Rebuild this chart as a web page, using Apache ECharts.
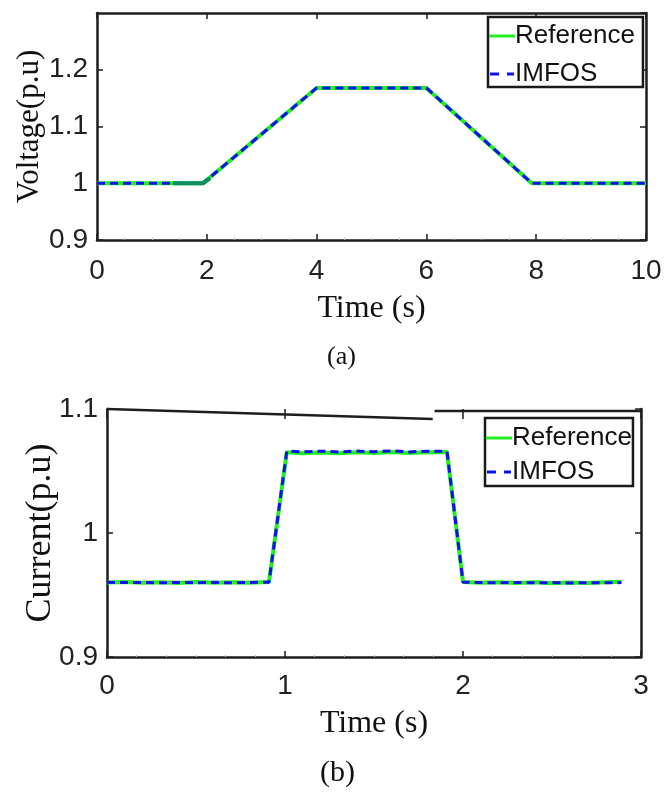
<!DOCTYPE html>
<html>
<head>
<meta charset="utf-8">
<script src="https://cdn.jsdelivr.net/npm/echarts@6/dist/echarts.min.js"></script>
<style>html,body{margin:0;padding:0;background:#fff}#c{width:665px;height:792px}</style>
</head>
<body>
<div id="c"></div>
<script>
// ---- Panel (a): voltage ----
const voltTime   = [0, 1.38, 1.93, 4.0, 6.0, 7.92, 10];
const voltRef    = [1.0, 1.0, 1.0, 1.168, 1.168, 1.0, 1.0];
const voltImfos  = [1.0, 1.0, 1.0, 1.168, 1.168, 1.0, 1.0];
const voltSegTime = [1.38, 1.93, 2.06];
const voltSegVal  = [1.0, 1.0, 1.009];
const voltXTicks = [0, 2, 4, 6, 8, 10];
const voltYTicks = [0.9, 1.0, 1.1, 1.2];

// ---- Panel (b): current ----
const curTime  = [0,0.1,0.2,0.3,0.4,0.5,0.6,0.7,0.8,0.91,1.01,1.1,1.2,1.3,1.4,1.5,1.6,1.7,1.8,1.91,2.0,2.1,2.2,2.3,2.4,2.5,2.6,2.7,2.8,2.89];
const curRef   = [0.9600,0.9604,0.9598,0.9603,0.9597,0.9604,0.9599,0.9603,0.9598,0.9604,1.0652,1.0644,1.0650,1.0643,1.0652,1.0645,1.0653,1.0646,1.0651,1.0653,0.9604,0.9598,0.9602,0.9597,0.9603,0.9595,0.9601,0.9597,0.9602,0.9606];
const curImfos = [0.9602,0.9600,0.9601,0.9598,0.9602,0.9599,0.9602,0.9598,0.9601,0.9603,1.0660,1.0655,1.0660,1.0654,1.0661,1.0655,1.0662,1.0654,1.0660,1.0658,0.9603,0.9600,0.9599,0.9601,0.9598,0.9600,0.9596,0.9600,0.9598,0.9600];
const curFrameA_T = [0, 1.83];
const curFrameA_V = [1.1, 1.092];
const curFrameB_T = [1.84, 3];
const curFrameB_V = [1.0984, 1.0984];
const curXTicks = [0, 1, 2, 3];
const curYTicks = [0.9, 1.0, 1.1];

const pairs = (xs, ys) => xs.map((x, i) => [x, ys[i]]);

const AX = '#1e1e1e';
const GREEN = '#22ee22';
const BLUE = '#1010ee';
const tickFont = {fontFamily: 'Liberation Sans', fontSize: 28, color: '#222'};
const nameFont = {fontFamily: 'Liberation Serif', fontSize: 32, color: '#111'};
const ICON_SOLID = 'path://M0,0H26V3H0Z';
const ICON_DASH = 'path://M0,0H9V3H0Z M17,0H24V3H17Z';

function xAxisMain(grid, max, interval, minorSplit, nameGap, margin) {
  return {
    type: 'value', gridIndex: grid, min: 0, max: max, interval: interval,
    position: 'bottom',
    name: 'Time (s)', nameLocation: 'middle', nameGap: nameGap, nameTextStyle: nameFont,
    nameMoveOverlap: false,
    axisLine: {show: true, onZero: false, lineStyle: {color: AX, width: 2.5}},
    axisTick: {show: true, inside: true, length: 6, lineStyle: {color: AX, width: 1.5}},
    minorTick: {show: true, splitNumber: minorSplit, length: 2, lineStyle: {color: '#bbb', width: 1}},
    axisLabel: Object.assign({margin: margin, formatter: v => String(v)}, tickFont),
    splitLine: {show: false}
  };
}

function legendBox(left, top, gap, pad) {
  return {
    left: left, top: top, orient: 'vertical',
    data: [
      {name: 'Reference', icon: ICON_SOLID, itemStyle: {color: GREEN}},
      {name: 'IMFOS', icon: ICON_DASH, itemStyle: {color: BLUE}}
    ],
    backgroundColor: '#fff', borderColor: '#1a1a1a', borderWidth: 2.5,
    padding: pad, itemGap: gap, itemWidth: 26, itemHeight: 3,
    textStyle: {fontFamily: 'Liberation Sans', fontSize: 26, color: '#111', padding: [0, 0, 0, -5]},
    selectedMode: false
  };
}

const option = {
  animation: false,
  backgroundColor: '#fff',
  grid: [
    {left: 97, top: 13, width: 549, height: 227},
    {left: 107, top: 409, width: 534, height: 248}
  ],
  xAxis: [
    xAxisMain(0, 10, 2, 4, 53, 17),
    {type: 'value', gridIndex: 0, min: 0, max: 10, interval: 2, position: 'top',
     axisLine: {show: true, onZero: false, lineStyle: {color: AX, width: 2.5}},
     axisTick: {show: true, inside: true, length: 6, lineStyle: {color: AX, width: 1.5}},
     axisLabel: {show: false}, splitLine: {show: false}},
    xAxisMain(1, 3, 1, 6, 51, 15),
    {type: 'value', gridIndex: 1, min: 0, max: 3, interval: 1, position: 'top',
     axisLine: {show: false},
     axisTick: {show: true, inside: true, length: 10, lineStyle: {color: AX, width: 1.5}},
     axisLabel: {show: false}, splitLine: {show: false}}
  ],
  yAxis: [
    {type: 'value', gridIndex: 0, min: 0.9, max: 1.3, interval: 0.1, position: 'left',
     name: 'Voltage(p.u)', nameLocation: 'middle', nameGap: 52, nameMoveOverlap: false,
     nameTextStyle: Object.assign({}, nameFont, {fontSize: 31}),
     axisLine: {show: true, onZero: false, lineStyle: {color: AX, width: 2.5}},
     axisTick: {show: true, inside: true, length: 6, lineStyle: {color: AX, width: 1.5}},
     axisLabel: Object.assign({margin: 9, showMaxLabel: false,
       formatter: v => voltYTicks.some(t => Math.abs(t - v) < 1e-6) ? (Math.abs(v - 1) < 1e-6 ? '1' : v.toFixed(1)) : ''}, tickFont),
     splitLine: {show: false}},
    {type: 'value', gridIndex: 0, min: 0.9, max: 1.3, interval: 0.1, position: 'right',
     axisLine: {show: true, onZero: false, lineStyle: {color: AX, width: 2.5}},
     axisTick: {show: true, inside: true, length: 6, lineStyle: {color: AX, width: 1.5}},
     axisLabel: {show: false}, splitLine: {show: false}},
    {type: 'value', gridIndex: 1, min: 0.9, max: 1.1, interval: 0.1, position: 'left',
     name: 'Current(p.u)', nameLocation: 'middle', nameGap: 48, nameMoveOverlap: false,
     nameTextStyle: Object.assign({}, nameFont, {fontSize: 36}),
     axisLine: {show: true, onZero: false, lineStyle: {color: AX, width: 2.5}},
     axisTick: {show: true, inside: true, length: 6, lineStyle: {color: AX, width: 1.5}},
     axisLabel: Object.assign({margin: 9,
       formatter: v => curYTicks.some(t => Math.abs(t - v) < 1e-6) ? (Math.abs(v - 1) < 1e-6 ? '1' : v.toFixed(1)) : ''}, tickFont),
     splitLine: {show: false}},
    {type: 'value', gridIndex: 1, min: 0.9, max: 1.1, interval: 0.1, position: 'right',
     axisLine: {show: true, onZero: false, lineStyle: {color: AX, width: 2.5}},
     axisTick: {show: true, inside: true, length: 6, lineStyle: {color: AX, width: 1.5}},
     axisLabel: {show: false}, splitLine: {show: false}}
  ],
  legend: [
    legendBox(488, 17, 12, [6, 8, 0, 1]),
    legendBox(485, 418, 8, [7, 1, 1, 1])
  ],
  graphic: [
    {type: 'text', left: 327, top: 344, style: {text: '(a)', font: '26px "Liberation Serif"', fill: '#111'}},
    {type: 'text', left: 320, top: 758, style: {text: '(b)', font: '30px "Liberation Serif"', fill: '#111'}}
  ],
  series: [
    {name: 'Reference', type: 'line', xAxisIndex: 0, yAxisIndex: 0, symbol: 'none', z: 2,
     lineStyle: {color: GREEN, width: 4}, itemStyle: {color: GREEN}, data: pairs(voltTime, voltRef)},
    {name: 'IMFOS', type: 'line', xAxisIndex: 0, yAxisIndex: 0, symbol: 'none', z: 3,
     lineStyle: {color: BLUE, width: 3, type: [8, 5]}, itemStyle: {color: BLUE}, data: pairs(voltTime, voltImfos)},
    {name: 'seg', type: 'line', xAxisIndex: 0, yAxisIndex: 0, symbol: 'none', z: 4,
     lineStyle: {color: '#0e8f63', width: 4}, data: pairs(voltSegTime, voltSegVal)},
    {name: 'Reference', type: 'line', xAxisIndex: 2, yAxisIndex: 2, symbol: 'none', z: 2,
     lineStyle: {color: GREEN, width: 4}, itemStyle: {color: GREEN}, data: pairs(curTime, curRef)},
    {name: 'IMFOS', type: 'line', xAxisIndex: 2, yAxisIndex: 2, symbol: 'none', z: 3,
     lineStyle: {color: BLUE, width: 3, type: [8, 5]}, itemStyle: {color: BLUE}, data: pairs(curTime, curImfos)},
    {name: 'frameA', type: 'line', xAxisIndex: 2, yAxisIndex: 2, symbol: 'none', clip: false, z: 5,
     lineStyle: {color: AX, width: 2.5}, data: pairs(curFrameA_T, curFrameA_V)},
    {name: 'frameB', type: 'line', xAxisIndex: 2, yAxisIndex: 2, symbol: 'none', clip: false, z: 5,
     lineStyle: {color: AX, width: 2.5}, data: pairs(curFrameB_T, curFrameB_V)}
  ]
};
echarts.init(document.getElementById('c'), null, {renderer: 'canvas'}).setOption(option);
</script>
</body>
</html>
